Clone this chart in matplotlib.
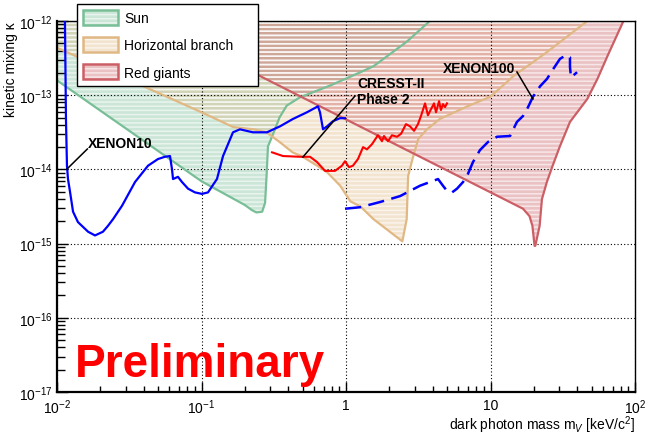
import numpy as np
import matplotlib
matplotlib.use("Agg")
import matplotlib.pyplot as plt
import matplotlib.ticker as mticker
from matplotlib.patches import Patch
from matplotlib.legend_handler import HandlerTuple

plt.rcParams["font.family"] = ["Liberation Sans", "DejaVu Sans"]
plt.rcParams["mathtext.fontset"] = "custom"
plt.rcParams["mathtext.rm"] = "Liberation Sans"
plt.rcParams["mathtext.it"] = "Liberation Sans:italic"
plt.rcParams["mathtext.bf"] = "Liberation Sans:bold"
plt.rcParams["hatch.linewidth"] = 1.1

# exclusion contours, log10(mass / keV) and log10(kappa)
sun_logm = [-2.0, -1.0, -0.70, -0.65, -0.62, -0.58, -0.56, -0.55, -0.54, -0.51,
            -0.46, -0.41, -0.32, -0.11, 0.10, 0.19, 0.42, 0.58]
sun_logk = [-12.80, -14.16, -14.48, -14.55, -14.58, -14.57, -14.45, -14.10, -13.69, -13.55,
            -13.30, -13.14, -13.03, -12.87, -12.69, -12.61, -12.28, -12.0]

hb_logm = [-2.0, -1.0, -0.78, -0.64, -0.55, -0.46, -0.37, -0.30, -0.20, -0.13,
           -0.04, 0.03, 0.10, 0.19, 0.37, 0.39, 0.42, 0.43, 0.46, 0.50,
           0.56, 0.65, 0.84, 1.00, 1.16, 1.39, 1.55, 1.67]
hb_logk = [-12.36, -13.23, -13.43, -13.46, -13.50, -13.63, -13.77, -13.83, -13.95, -14.04,
           -14.22, -14.43, -14.50, -14.67, -14.94, -14.97, -14.67, -14.09, -13.86, -13.59,
           -13.46, -13.32, -13.15, -13.02, -12.74, -12.42, -12.18, -12.0]

rg_logm = [-1.35, 1.225, 1.27, 1.29, 1.305, 1.31, 1.34, 1.356, 1.39, 1.43,
           1.48, 1.55, 1.67, 1.74, 1.81, 1.92]
rg_logk = [-12.0, -14.53, -14.63, -14.76, -15.03, -15.03, -14.76, -14.40, -14.17, -13.95,
           -13.69, -13.36, -13.05, -12.78, -12.47, -12.0]

xenon10_logm = [-1.945, -1.938, -1.931, -1.924, -1.910, -1.889, -1.855, -1.785, -1.737, -1.682,
                -1.647, -1.612, -1.550, -1.460, -1.370, -1.301, -1.253, -1.218, -1.204, -1.197,
                -1.163, -1.135, -1.093, -1.045, -0.997, -0.955, -0.907, -0.893, -0.851, -0.782,
                -0.734, -0.644, -0.547, -0.457, -0.367, -0.270, -0.194, -0.180, -0.159, -0.131,
                -0.090, -0.042, -0.007]
xenon10_logk = [-12.0, -13.32, -13.95, -14.13, -14.30, -14.57, -14.71, -14.84, -14.89, -14.84,
                -14.76, -14.67, -14.49, -14.17, -13.95, -13.86, -13.83, -13.82, -14.00, -14.13,
                -14.10, -14.17, -14.26, -14.31, -14.33, -14.31, -14.17, -14.13, -13.82, -13.50,
                -13.46, -13.50, -13.50, -13.42, -13.32, -13.23, -13.15, -13.23, -13.46, -13.42,
                -13.35, -13.31, -13.31]

cresst_logm = [-0.512, -0.436, -0.318, -0.249, -0.201, -0.145, -0.076, -0.028, -0.007, 0.021,
               0.048, 0.083, 0.118, 0.145, 0.180, 0.221, 0.249, 0.263, 0.291, 0.318,
               0.353, 0.381, 0.415, 0.443, 0.471, 0.498, 0.519, 0.547, 0.567, 0.588,
               0.609, 0.623, 0.644, 0.657, 0.671, 0.685, 0.699]
cresst_logk = [-13.77, -13.82, -13.83, -13.83, -13.90, -14.02, -14.02, -13.95, -13.89, -13.97,
               -13.95, -13.86, -13.70, -13.73, -13.66, -13.54, -13.62, -13.55, -13.62, -13.54,
               -13.56, -13.52, -13.39, -13.42, -13.48, -13.39, -13.28, -13.11, -13.27, -13.19,
               -13.11, -13.23, -13.08, -13.20, -13.12, -13.16, -13.11]

xenon100_logm = [-0.007, 0.097, 0.235, 0.374, 0.512, 0.637, 0.671, 0.699, 0.734, 0.768,
                 0.810, 0.844, 0.879, 0.927, 0.983, 1.045, 1.135, 1.183, 1.225, 1.260,
                 1.294, 1.343, 1.391, 1.433, 1.481, 1.523, 1.550, 1.550, 1.557, 1.599]
xenon100_logk = [-14.53, -14.51, -14.44, -14.36, -14.22, -14.13, -14.22, -14.29, -14.31, -14.26,
                 -14.17, -14.06, -13.90, -13.74, -13.63, -13.56, -13.55, -13.36, -13.28, -13.16,
                 -13.02, -12.88, -12.78, -12.65, -12.51, -12.46, -12.49, -12.62, -12.76, -12.69]

region_names = ["Sun", "Horizontal branch", "Red giants"]
region_colors = ["#78be96", "#e0b884", "#cc5f66"]

x_ticks = [1e-2, 1e-1, 1, 10, 100]
x_ticklabels = ["$10^{-2}$", "$10^{-1}$", "1", "10", "$10^{2}$"]
y_ticks = [1e-17, 1e-16, 1e-15, 1e-14, 1e-13, 1e-12]


def pw(a):
    return np.power(10.0, np.asarray(a))


fig = plt.figure(figsize=(6.45, 4.35), dpi=100)
ax = fig.add_axes([57 / 645, 1 - 393 / 435, 578 / 645, 371 / 435])
ax.set_xscale("log")
ax.set_yscale("log")
ax.set_xlim(1e-2, 1e2)
ax.set_ylim(1e-17, 1e-12)

regions = [(sun_logm, sun_logk), (hb_logm, hb_logk), (rg_logm, rg_logk)]
for (lm, lk), col in zip(regions, region_colors):
    m = pw(lm)
    k = pw(lk)
    # close each contour along the top of the frame
    pm = np.concatenate([m, [m[-1], m[0]]])
    pk = np.concatenate([k, [1e-12, 1e-12]])
    ax.fill(pm, pk, facecolor=col, alpha=0.38, lw=0, zorder=1)
    ax.fill(pm, pk, facecolor="none", edgecolor=(1, 1, 1, 0.6), hatch="----", lw=0, zorder=1.1)
    ax.plot(m, k, color=col, lw=1.6, zorder=2)

ax.plot(pw(xenon10_logm), pw(xenon10_logk), color="#0000ff", lw=1.6, zorder=3)
ax.plot(pw(cresst_logm), pw(cresst_logk), color="#ff0000", lw=1.5, zorder=3)
ax.plot(pw(xenon100_logm), pw(xenon100_logk), color="#0000ff", lw=1.8,
        ls=(0, (6.5, 3)), zorder=3)

# curve labels
ax.plot(pw([-1.931, -1.790]), pw([-13.995, -13.725]), color="k", lw=1.1, zorder=4)
ax.text(pw(-1.785), pw(-13.70), "XENON10", fontsize=10, fontweight="bold",
        ha="left", va="baseline", zorder=4)
ax.plot(pw([-0.298, 0.062]), pw([-13.833, -13.011]), color="k", lw=1.1, zorder=4)
ax.text(pw(0.076), pw(-12.74), "CRESST-II\nPhase 2", fontsize=10, fontweight="bold",
        ha="left", va="top", linespacing=1.15, zorder=4)
ax.plot(pw([1.183, 1.294]), pw([-12.687, -13.051]), color="k", lw=1.1, zorder=4)
ax.text(pw(1.170), pw(-12.69), "XENON100", fontsize=10, fontweight="bold",
        ha="right", va="baseline", zorder=4)

ax.text(0.031, 0.043, "Preliminary", transform=ax.transAxes, fontsize=33,
        fontweight="bold", color="#ff0000", ha="left", va="baseline", zorder=5)

# axes, ticks and grid
ax.grid(True, which="major", ls=(0, (1, 2)), color="k", lw=0.8)
ax.set_xticks(x_ticks)
ax.set_xticklabels(x_ticklabels)
ax.set_yticks(y_ticks)
ax.xaxis.set_minor_locator(mticker.LogLocator(base=10, subs=np.arange(2, 10)))
ax.yaxis.set_minor_locator(mticker.LogLocator(base=10, subs=np.arange(2, 10)))
ax.xaxis.set_minor_formatter(mticker.NullFormatter())
ax.yaxis.set_minor_formatter(mticker.NullFormatter())
ax.tick_params(which="both", direction="in", top=False, right=False, labelsize=10,
               colors="k", width=1.0)
ax.tick_params(axis="x", which="major", length=7, pad=4)
ax.tick_params(axis="x", which="minor", length=4)
ax.tick_params(axis="y", which="major", length=8, pad=3)
ax.tick_params(axis="y", which="minor", length=6)
for side in ("left", "bottom"):
    ax.spines[side].set_linewidth(1.6)
for side in ("top", "right"):
    ax.spines[side].set_linewidth(1.0)

ax.set_ylabel("kinetic mixing κ", fontsize=10, loc="top", labelpad=1)
ax.set_xlabel("dark photon mass m$_{V}$ [keV/c$^{2}$]", fontsize=10, loc="right")
ax.xaxis.set_label_coords(1.0, -0.058)

handles = []
for col in region_colors:
    handles.append((
        Patch(facecolor=col, alpha=0.38, lw=0),
        Patch(facecolor="none", edgecolor=(1, 1, 1, 0.6), hatch="----", lw=0),
        Patch(facecolor="none", edgecolor=col, lw=1.8),
    ))
leg = ax.legend(handles, region_names, loc="upper left", mode="expand",
                bbox_to_anchor=(77 / 645, 1 - 87 / 435, 181 / 645, 82 / 435),
                bbox_transform=fig.transFigure,
                handler_map={tuple: HandlerTuple(ndivide=1)},
                fontsize=10, fancybox=False, framealpha=1, edgecolor="k",
                borderpad=0.45, labelspacing=0.85, handlelength=2.5, handleheight=1.3,
                handletextpad=0.45, borderaxespad=0)
leg.get_frame().set_linewidth(1.0)
leg.set_zorder(10)

fig.savefig("out.png", dpi=100)
